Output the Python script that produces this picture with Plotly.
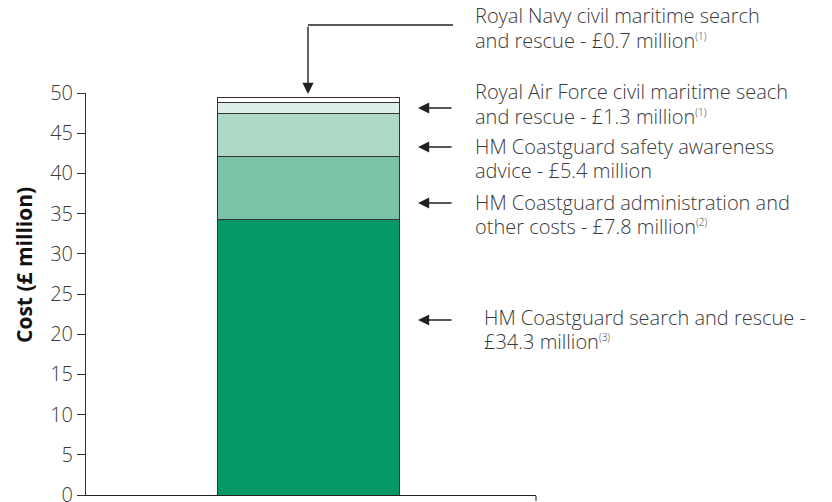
import plotly.graph_objects as go

# ---- data ----
segments = [
    "HM Coastguard search and rescue",
    "HM Coastguard administration and other costs",
    "HM Coastguard safety awareness advice",
    "Royal Air Force civil maritime seach and rescue",
    "Royal Navy civil maritime search and rescue",
]
values = [34.3, 7.8, 5.4, 1.3, 0.7]
colors = ["#039865", "#7AC3A6", "#ADD9C6", "#DDEFE6", "#FFFFFF"]
SUP = '<sup><span style="font-size:10px">(%s)</span></sup>'
labels = [
    ["HM Coastguard search and rescue -", "£34.3 million" + SUP % 3],
    ["HM Coastguard administration and", "other costs - £7.8 million" + SUP % 2],
    ["HM Coastguard safety awareness", "advice - £5.4 million"],
    ["Royal Air Force civil maritime seach", "and rescue - £1.3 million" + SUP % 1],
    ["Royal Navy civil maritime search", "and rescue - £0.7 million" + SUP % 1],
]
y_ticks = [0, 5, 10, 15, 20, 25, 30, 35, 40, 45, 50]
y_title = "<b>Cost (£ million)</b>"

# ---- layout constants ----
W, H = 832, 502
ML, MR, MT, MB = 86, 296, 93, 7
PW, PH = W - ML - MR, H - MT - MB
XR = [-1.2198, 1.2527]
FONT = "Open Sans"
TXT = "#3a3a3a"

def px_x(px):
    return (px - ML) / PW

def px_y(py):
    return (H - MB - py) / PH

fig = go.Figure()
for name, v, c in zip(segments, values, colors):
    fig.add_trace(go.Bar(
        x=[0], y=[v], name=name, width=1,
        marker=dict(color=c, line=dict(color="#333333", width=1)),
        showlegend=False, hoverinfo="name+y",
    ))

total = sum(values)
bar_center_paper = (0 - XR[0]) / (XR[1] - XR[0])

annotations = []
# (label index, text left px, line-1 centre px, arrow y px or None)
blocks = [
    (4, 473, 17, None),
    (3, 473, 93, 108),
    (2, 473, 147, 147),
    (1, 473, 203, 203),
    (0, 482, 318, 320),
]
LINE = 24.5
for idx, lx, cy, ay in blocks:
    for k, line in enumerate(labels[idx]):
        annotations.append(dict(
            xref="paper", yref="paper", x=px_x(lx), y=px_y(cy + k * LINE - 1),
            xanchor="left", yanchor="middle", align="left",
            text=line, showarrow=False,
            font=dict(family=FONT, size=20, color=TXT, weight=300),
        ))
    if ay is not None:
        annotations.append(dict(
            xref="paper", yref="paper", x=px_x(418), y=px_y(ay),
            ax=35, ay=0, text="", showarrow=True,
            arrowhead=2, arrowsize=1.6, arrowwidth=1.4, arrowcolor="#222222",
        ))

# Royal Navy pointer: vertical arrow onto top of bar
navy_line_py = 25
annotations.append(dict(
    xref="x", yref="y", x=0, y=total,
    ax=0, ay=-(H - MB - navy_line_py - total * PH / 50), text="",
    showarrow=True, arrowhead=2, arrowsize=1.6, arrowwidth=1.4,
    arrowcolor="#222222", standoff=3,
))

# y-axis title
annotations.append(dict(
    xref="paper", yref="paper", x=px_x(24), y=px_y(265),
    xanchor="center", yanchor="middle", textangle=-90,
    text=y_title, showarrow=False,
    font=dict(family=FONT, size=21, color="#111111"),
))

shapes = [dict(
    type="line", xref="paper", yref="paper",
    x0=bar_center_paper, x1=px_x(453), y0=px_y(navy_line_py), y1=px_y(navy_line_py),
    line=dict(color="#222222", width=1.4),
)]

fig.update_layout(
    barmode="stack",
    width=W, height=H,
    margin=dict(l=ML, r=MR, t=MT, b=MB, pad=0, autoexpand=False),
    paper_bgcolor="white", plot_bgcolor="white",
    font=dict(family=FONT, color=TXT),
    annotations=annotations,
    shapes=shapes,
    xaxis=dict(
        range=XR, showgrid=False, zeroline=False, automargin=False,
        showline=True, linecolor="#222222", linewidth=1,
        tickvals=[XR[1]], ticktext=[""], ticks="outside", ticklen=5,
        tickcolor="#888888", tickwidth=2, fixedrange=True,
    ),
    yaxis=dict(
        range=[0, 50], tickvals=y_ticks, showgrid=False, zeroline=False,
        automargin=False,
        showline=True, linecolor="#333333", linewidth=1,
        ticks="outside", ticklen=8, tickcolor="#333333",
        ticklabeloverflow="allow",
        tickfont=dict(family=FONT, size=20, color=TXT, weight=300),
    ),
)

fig.write_html("out.html")
